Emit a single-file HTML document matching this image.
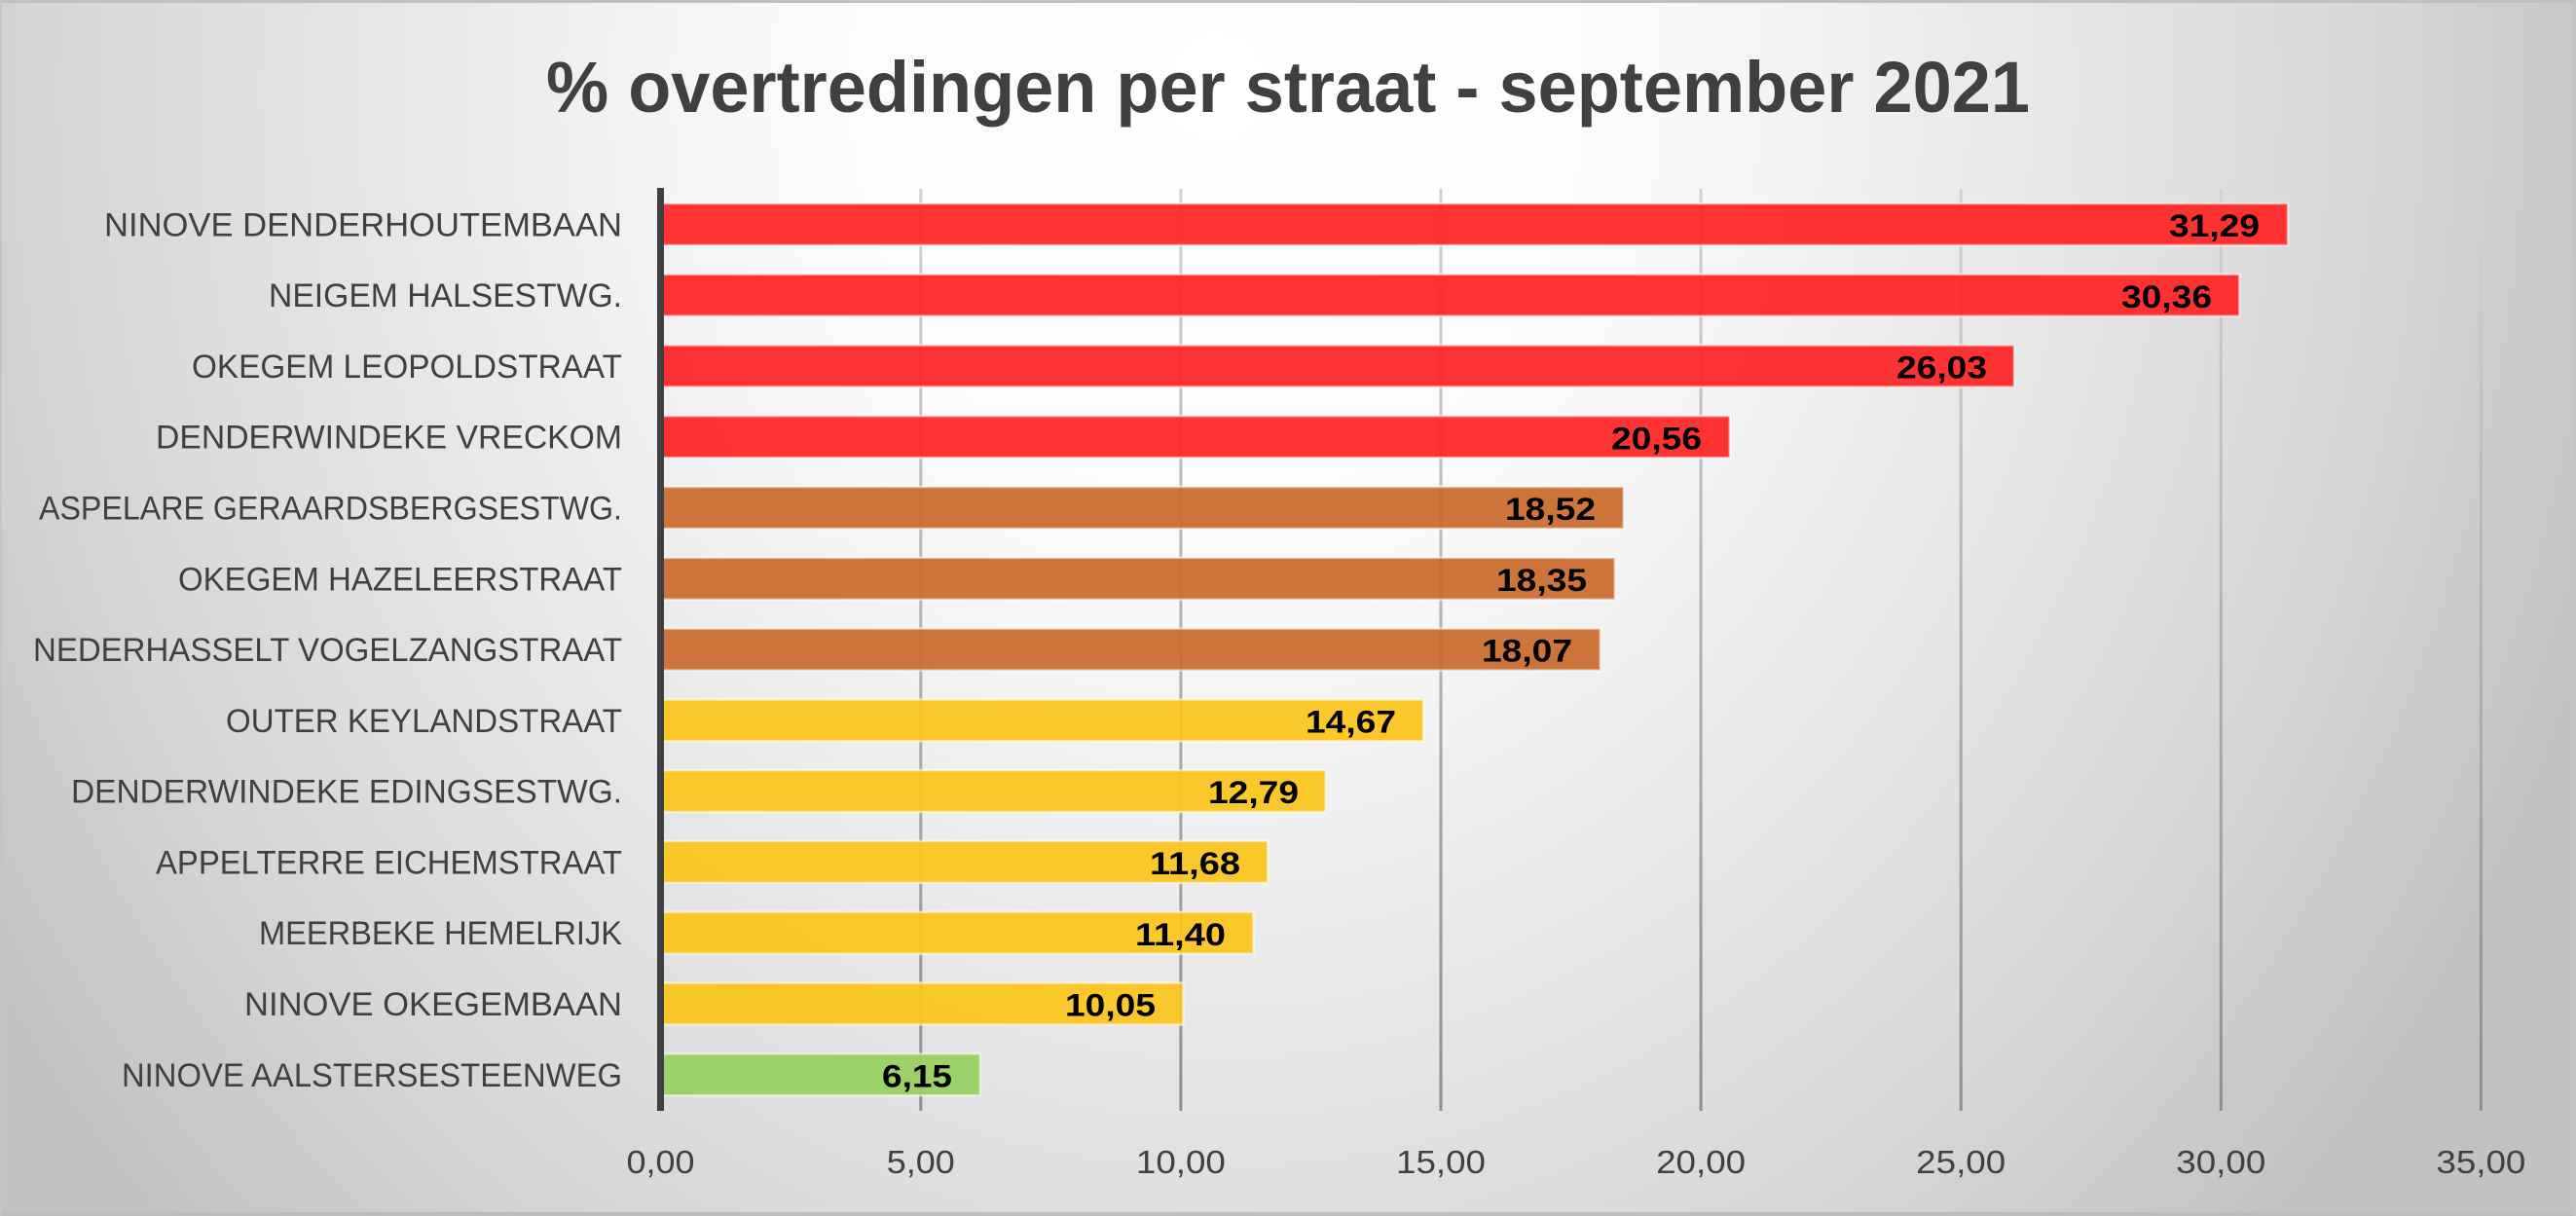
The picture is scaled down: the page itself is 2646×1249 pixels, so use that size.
<!DOCTYPE html>
<html>
<head>
<meta charset="utf-8">
<style>
html,body{margin:0;padding:0;width:2646px;height:1249px;overflow:hidden;}
svg{display:block;}
text{font-family:"Liberation Sans",sans-serif;}
</style>
</head>
<body>
<svg width="2646" height="1249" viewBox="0 0 2646 1249" xmlns="http://www.w3.org/2000/svg">
<defs>
<radialGradient id="bg" gradientUnits="userSpaceOnUse" cx="1250" cy="90" r="1500" gradientTransform="translate(1250 90) scale(1 1.13) translate(-1250 -90)">
<stop offset="0" stop-color="#ffffff"/>
<stop offset="0.28" stop-color="#fbfbfb"/>
<stop offset="0.55" stop-color="#e8e8e8"/>
<stop offset="0.8" stop-color="#d6d6d6"/>
<stop offset="1" stop-color="#c2c2c2"/>
</radialGradient>
<linearGradient id="gl" gradientUnits="userSpaceOnUse" x1="0" y1="194" x2="0" y2="1141">
<stop offset="0" stop-color="#d2d2d2"/>
<stop offset="1" stop-color="#8e8e8e"/>
</linearGradient>
</defs>
<rect x="0" y="0" width="2646" height="1249" fill="url(#bg)"/>
<rect x="0" y="0" width="2646" height="3" fill="#c0c0c0"/>
<rect x="0" y="1245" width="2646" height="4" fill="#bdbdbd"/>
<rect x="0" y="0" width="2" height="1249" fill="#c4c4c4"/>
<rect x="2643" y="0" width="3" height="1249" fill="#c4c4c4"/>

<!-- title -->
<text x="561" y="115" font-size="74" font-weight="bold" fill="#404040" textLength="1524" lengthAdjust="spacingAndGlyphs">% overtredingen per straat - september 2021</text>

<!-- gridlines -->
<g fill="url(#gl)">
<rect x="944.3" y="194" width="3" height="947"/>
<rect x="1211.4" y="194" width="3" height="947"/>
<rect x="1478.5" y="194" width="3" height="947"/>
<rect x="1745.6" y="194" width="3" height="947"/>
<rect x="2012.7" y="194" width="3" height="947"/>
<rect x="2279.8" y="194" width="3" height="947"/>
<rect x="2546.9" y="194" width="3" height="947"/>
</g>

<!-- bars -->
<g stroke="rgba(255,255,255,0.55)" stroke-width="2.5" fill-opacity="0.93">
<rect x="678.5" y="209" width="1671.5" height="43" fill="#ff2323"/>
<rect x="678.5" y="281.7" width="1621.8" height="43" fill="#ff2323"/>
<rect x="678.5" y="354.5" width="1390.5" height="43" fill="#ff2323"/>
<rect x="678.5" y="427.2" width="1098.3" height="43" fill="#ff2323"/>
<rect x="678.5" y="500" width="989.3" height="43" fill="#c96a2c"/>
<rect x="678.5" y="572.8" width="980.3" height="43" fill="#c96a2c"/>
<rect x="678.5" y="645.6" width="965.3" height="43" fill="#c96a2c"/>
<rect x="678.5" y="718.4" width="783.7" height="43" fill="#fcc51c"/>
<rect x="678.5" y="791.1" width="683.2" height="43" fill="#fcc51c"/>
<rect x="678.5" y="863.9" width="623.9" height="43" fill="#fcc51c"/>
<rect x="678.5" y="936.7" width="609.0" height="43" fill="#fcc51c"/>
<rect x="678.5" y="1009.5" width="536.9" height="43" fill="#fcc51c"/>
<rect x="678.5" y="1082.3" width="328.5" height="43" fill="#98d161"/>
</g>

<!-- axis line -->
<rect x="675" y="193" width="7" height="948" fill="#404040"/>

<!-- category labels -->
<g font-size="34" fill="#404040">
<text x="107" y="242.4" textLength="532" lengthAdjust="spacingAndGlyphs">NINOVE DENDERHOUTEMBAAN</text>
<text x="276" y="315.2" textLength="363" lengthAdjust="spacingAndGlyphs">NEIGEM HALSESTWG.</text>
<text x="197" y="388" textLength="442" lengthAdjust="spacingAndGlyphs">OKEGEM LEOPOLDSTRAAT</text>
<text x="160" y="460.7" textLength="479" lengthAdjust="spacingAndGlyphs">DENDERWINDEKE VRECKOM</text>
<text x="40" y="533.5" textLength="599" lengthAdjust="spacingAndGlyphs">ASPELARE GERAARDSBERGSESTWG.</text>
<text x="183" y="606.3" textLength="456" lengthAdjust="spacingAndGlyphs">OKEGEM HAZELEERSTRAAT</text>
<text x="34" y="679.1" textLength="605" lengthAdjust="spacingAndGlyphs">NEDERHASSELT VOGELZANGSTRAAT</text>
<text x="232" y="751.9" textLength="407" lengthAdjust="spacingAndGlyphs">OUTER KEYLANDSTRAAT</text>
<text x="73" y="824.6" textLength="566" lengthAdjust="spacingAndGlyphs">DENDERWINDEKE EDINGSESTWG.</text>
<text x="160" y="897.4" textLength="479" lengthAdjust="spacingAndGlyphs">APPELTERRE EICHEMSTRAAT</text>
<text x="266" y="970.2" textLength="373" lengthAdjust="spacingAndGlyphs">MEERBEKE HEMELRIJK</text>
<text x="251" y="1043" textLength="388" lengthAdjust="spacingAndGlyphs">NINOVE OKEGEMBAAN</text>
<text x="125" y="1115.8" textLength="514" lengthAdjust="spacingAndGlyphs">NINOVE AALSTERSESTEENWEG</text>
</g>

<!-- value labels -->
<g font-size="32" font-weight="bold" fill="#000">
<text x="2228" y="243" textLength="93" lengthAdjust="spacingAndGlyphs">31,29</text>
<text x="2179" y="315.8" textLength="93" lengthAdjust="spacingAndGlyphs">30,36</text>
<text x="1948" y="388.6" textLength="93" lengthAdjust="spacingAndGlyphs">26,03</text>
<text x="1655" y="461.3" textLength="93" lengthAdjust="spacingAndGlyphs">20,56</text>
<text x="1546" y="534.1" textLength="93" lengthAdjust="spacingAndGlyphs">18,52</text>
<text x="1537" y="606.9" textLength="93" lengthAdjust="spacingAndGlyphs">18,35</text>
<text x="1522" y="679.7" textLength="93" lengthAdjust="spacingAndGlyphs">18,07</text>
<text x="1341" y="752.5" textLength="93" lengthAdjust="spacingAndGlyphs">14,67</text>
<text x="1241" y="825.2" textLength="93" lengthAdjust="spacingAndGlyphs">12,79</text>
<text x="1181" y="898" textLength="93" lengthAdjust="spacingAndGlyphs">11,68</text>
<text x="1166" y="970.8" textLength="93" lengthAdjust="spacingAndGlyphs">11,40</text>
<text x="1094" y="1043.6" textLength="93" lengthAdjust="spacingAndGlyphs">10,05</text>
<text x="906" y="1116.4" textLength="72" lengthAdjust="spacingAndGlyphs">6,15</text>
</g>

<!-- tick labels -->
<g font-size="33" fill="#404040" text-anchor="middle">
<text x="678.5" y="1205" textLength="70" lengthAdjust="spacingAndGlyphs">0,00</text>
<text x="945.8" y="1205" textLength="70" lengthAdjust="spacingAndGlyphs">5,00</text>
<text x="1212.9" y="1205" textLength="92" lengthAdjust="spacingAndGlyphs">10,00</text>
<text x="1480" y="1205" textLength="92" lengthAdjust="spacingAndGlyphs">15,00</text>
<text x="1747.1" y="1205" textLength="92" lengthAdjust="spacingAndGlyphs">20,00</text>
<text x="2014.2" y="1205" textLength="92" lengthAdjust="spacingAndGlyphs">25,00</text>
<text x="2281.3" y="1205" textLength="92" lengthAdjust="spacingAndGlyphs">30,00</text>
<text x="2548.4" y="1205" textLength="92" lengthAdjust="spacingAndGlyphs">35,00</text>
</g>
</svg>
</body>
</html>
